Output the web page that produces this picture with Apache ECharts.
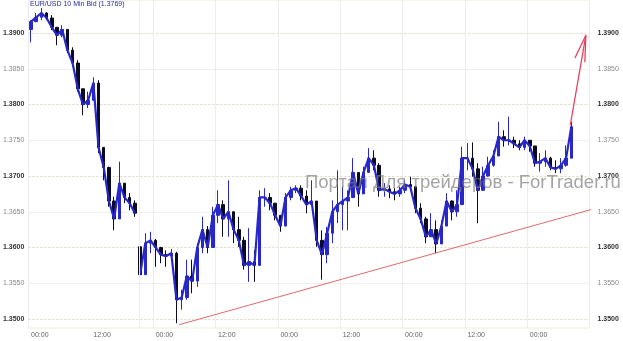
<!DOCTYPE html>
<html><head><meta charset="utf-8">
<script src="https://cdn.jsdelivr.net/npm/echarts@6/dist/echarts.min.js"></script>
<style>html,body{margin:0;padding:0;background:#fff}#c{width:623px;height:341px}</style>
</head><body><div id="c"></div>
<script>
// hourly slots (weekend compressed), 108 slots on the axis
const slotCount = 108;
const highs = [1.3918,1.3928,1.3935,1.3929,1.3925,1.3908,1.3911,1.3904,1.3880,1.3862,
1.3821,1.3818,1.3838,1.3834,1.3740,1.3713,1.3671,1.3720,1.3690,1.3676,
1.3666,1.3604,1.3620,1.3622,1.3612,1.3601,1.3596,1.3598,1.3594,1.3541,
1.3583,1.3583,1.3606,1.3643,1.3630,1.3657,1.3680,1.3666,1.3694,1.3648,
1.3643,1.3615,1.3627,1.3596,1.3680,1.3683,1.3676,1.3662,1.3643,1.3676,
1.3685,1.3687,1.3687,1.3680,1.3694,1.3662,1.3624,1.3629,1.3666,1.3708,
1.3685,1.3680,1.3725,1.3699,1.3713,1.3739,1.3736,1.3718,1.3690,1.3687,
1.3683,1.3685,1.3694,1.3699,1.3685,1.3662,1.3643,1.3648,1.3638,1.3638,
1.3676,1.3666,1.3680,1.3741,1.3746,1.3747,1.3718,1.3713,1.3727,1.3736,
1.3776,1.3764,1.3783,1.3755,1.3750,1.3755,1.3750,1.3741,1.3732,1.3736,
1.3727,1.3722,1.3725,1.3743,1.3776];
const lows = [1.3887,1.3915,1.3918,1.3918,1.3904,1.3883,1.3894,1.3872,1.3853,1.3818,
1.3785,1.3795,1.3806,1.3732,1.3694,1.3657,1.3624,1.3640,1.3662,1.3652,
1.3643,1.3555,1.3565,1.3592,1.3573,1.3578,1.3573,1.3580,1.3494,1.3513,
1.3527,1.3536,1.3545,1.3592,1.3592,1.3615,1.3634,1.3615,1.3615,1.3606,
1.3601,1.3569,1.3552,1.3552,1.3587,1.3657,1.3652,1.3638,1.3622,1.3634,
1.3666,1.3676,1.3666,1.3648,1.3659,1.3601,1.3555,1.3578,1.3606,1.3634,
1.3624,1.3624,1.3680,1.3657,1.3680,1.3708,1.3708,1.3671,1.3671,1.3669,
1.3666,1.3671,1.3676,1.3680,1.3648,1.3634,1.3606,1.3615,1.3592,1.3610,
1.3648,1.3638,1.3643,1.3713,1.3708,1.3699,1.3634,1.3680,1.3699,1.3713,
1.3741,1.3741,1.3743,1.3739,1.3736,1.3736,1.3734,1.3713,1.3706,1.3713,
1.3708,1.3704,1.3704,1.3713,1.3741];
const closes = [1.3916,1.3922,1.3928,1.3921,1.3908,1.3897,1.3905,1.3876,1.3858,1.3822,
1.3800,1.3806,1.3830,1.3740,1.3712,1.3665,1.3640,1.3690,1.3670,1.3662,
1.3648,1.3562,1.3606,1.3610,1.3600,1.3590,1.3588,1.3592,1.3527,1.3530,
1.3560,1.3553,1.3600,1.3625,1.3600,1.3645,1.3660,1.3640,1.3650,1.3625,
1.3610,1.3575,1.3580,1.3575,1.3670,1.3670,1.3662,1.3645,1.3630,1.3670,
1.3680,1.3683,1.3672,1.3660,1.3665,1.3610,1.3590,1.3620,1.3650,1.3660,
1.3665,1.3670,1.3705,1.3675,1.3705,1.3725,1.3715,1.3680,1.3682,1.3678,
1.3675,1.3680,1.3688,1.3685,1.3655,1.3640,1.3615,1.3625,1.3605,1.3630,
1.3665,1.3650,1.3660,1.3725,1.3725,1.3710,1.3680,1.3700,1.3715,1.3728,
1.3755,1.3750,1.3750,1.3745,1.3740,1.3750,1.3742,1.3718,1.3720,1.3725,
1.3712,1.3710,1.3715,1.3725,1.3769];
const sessionOpens = {0: 1.3905, 21: 1.3601};
const weekStartSlot = 21;
const yTicks = [1.350,1.355,1.360,1.365,1.370,1.375,1.380,1.385,1.390];
const majorTicks = [1.350,1.360,1.370,1.380,1.390];
const minorTicks = [1.355,1.365,1.375,1.385];
const trendLine = [[29.0,1.3492],[109.25,1.3655]];
const arrowShaft = [[104.3,1.3771],[107.3,1.3897]];
const arrowHead = [[105.2,1.3865],[107.3,1.3897],[107.1,1.3859]];
const weekendSlot = 21.3;
const titleText = 'EUR/USD 10 Min Bid (1.3769)';
const watermark = 'Портал Для трейдеров - ForTrader.ru';

const categories = [];
for (let i = 0; i < slotCount; i++) categories.push(String(i % 24).padStart(2,'0') + ':00');
const opens = closes.map((c, i) => (i in sessionOpens) ? sessionOpens[i] : closes[i-1]);
const bars = closes.map((c, i) => {
  const o = opens[i];
  return [o, c, Math.min(lows[i], o, c), Math.max(highs[i], o, c)];
});
const closeFri = closes.map((c, i) => i < weekStartSlot ? c : '-');
const closeWeek = closes.map((c, i) => i >= weekStartSlot ? c : '-');

const yMin = 1.34874, yMax = 1.39462;
const fmt = v => {
  const s = v.toFixed(4);
  return (Math.round(v*1000) % 10 === 0) ? '{b|' + s + '}' : '{n|' + s + '}';
};
const rich = {
  b: {fontSize: 7, fontWeight: 'bold', color: '#333', fontFamily: 'Liberation Sans'},
  n: {fontSize: 7, color: '#8a8a8a', fontFamily: 'Liberation Sans'}
};
const blue = '#2828c8', dark = '#0a0a22';

const chart = echarts.init(document.getElementById('c'), null, {renderer: 'canvas'});
chart.setOption({
  animation: false,
  backgroundColor: '#fff',
  title: [
    {text: titleText, left: 30, top: 1, padding: 0,
     textStyle: {fontSize: 7, fontWeight: 'normal', color: '#2a2a9a', fontFamily: 'Liberation Sans'}},
    {text: watermark, left: 305, top: 173, padding: 0, z: 20,
     textStyle: {fontSize: 18.5, fontWeight: 'normal', color: 'rgba(125,125,125,0.7)', fontFamily: 'Liberation Sans'}}
  ],
  grid: {left: 27, right: 33.5, top: 0, bottom: 13, show: true, borderColor: '#ecebdc', borderWidth: 1, backgroundColor: 'transparent'},
  xAxis: [
    {type: 'category', data: categories, boundaryGap: true,
     axisLine: {show: false}, axisTick: {show: false},
     axisLabel: {interval: 11, align: 'left', fontSize: 7, color: '#666', margin: 4, fontFamily: 'Liberation Sans'},
     splitLine: {show: true, interval: (i) => i % 12 === 0 && i !== 12, lineStyle: {color: '#ececec', width: 1}}},
    {type: 'value', min: -0.5, max: slotCount - 0.5, show: false}
  ],
  yAxis: [
    {type: 'value', position: 'left', min: yMin, max: yMax, scale: true,
     axisLine: {show: false},
     axisTick: {show: false, customValues: minorTicks},
     axisLabel: {customValues: yTicks, formatter: fmt, rich: rich, margin: 4},
     splitLine: {show: true, lineStyle: {color: '#efefef', width: 1}}},
    {type: 'value', position: 'right', min: yMin, max: yMax, scale: true,
     axisLine: {show: false},
     axisTick: {show: false, customValues: majorTicks},
     axisLabel: {customValues: yTicks, formatter: fmt, rich: rich, margin: 8},
     splitLine: {show: true, lineStyle: {color: '#ddd8bf', width: 1, type: [2, 2]}}}
  ],
  series: [
    {type: 'line', xAxisIndex: 0, yAxisIndex: 0, data: closeFri, symbol: 'none', silent: true, connectNulls: false,
     lineStyle: {color: blue, width: 2.2}},
    {type: 'line', xAxisIndex: 0, yAxisIndex: 0, data: closeWeek, symbol: 'none', silent: true, connectNulls: false,
     lineStyle: {color: blue, width: 2.2}},
    {type: 'candlestick', xAxisIndex: 0, yAxisIndex: 0, data: bars, barWidth: 3,
     itemStyle: {color: blue, color0: dark, borderColor: blue, borderColor0: dark, borderWidth: 1}},
    {type: 'line', xAxisIndex: 1, yAxisIndex: 0, data: trendLine.map(p => [p[0]-0.5, p[1]]), symbol: 'none', clip: false, silent: true,
     lineStyle: {color: '#e06a6a', width: 1},
     markLine: {symbol: 'none', silent: true, label: {show: false},
       lineStyle: {color: '#ececec', type: 'solid', width: 1}, data: [{xAxis: weekendSlot - 0.5}]}},
    {type: 'line', xAxisIndex: 1, yAxisIndex: 0, data: arrowShaft.map(p => [p[0]-0.5, p[1]]), symbol: 'none', clip: false, silent: true,
     lineStyle: {color: '#e8405e', width: 1.3}},
    {type: 'line', xAxisIndex: 1, yAxisIndex: 0, data: arrowHead.map(p => [p[0]-0.5, p[1]]), symbol: 'none', clip: false, silent: true,
     lineStyle: {color: '#e8405e', width: 1.3}}
  ]
});
</script></body></html>
